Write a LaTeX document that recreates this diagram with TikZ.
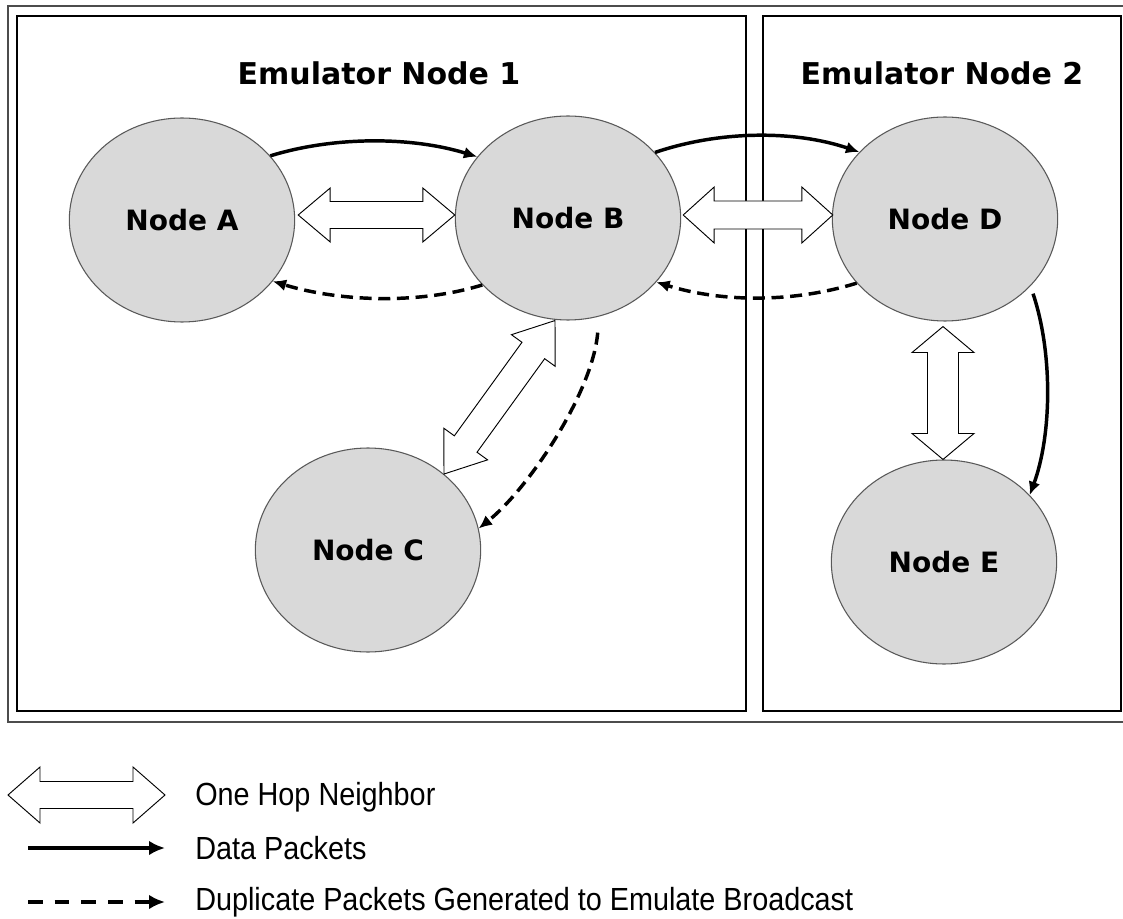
\documentclass[tikz,border=0pt]{standalone}
\usepackage{fontspec}
\setmainfont{Liberation Sans}
\newfontfamily\labfont{DejaVu Sans}
\newfontfamily\legfont{Liberation Sans}[FakeStretch=0.9]
\usetikzlibrary{shapes.geometric,arrows.meta,calc}
\definecolor{nodegray}{RGB}{217,217,217}
% hollow double arrow: #1 from, #2 to, #3 head length, #4 head half width, #5 shaft half width (px)
\newcommand{\hoparrow}[5]{%
  \draw[hop] let \p1=(#1), \p2=(#2),
    \n1={atan2(\y2-\y1,\x2-\x1)}, \n2={veclen(\x2-\x1,\y2-\y1)} in
    ([shift={(\p1)},rotate=\n1]0pt,0pt)
    -- ([shift={(\p1)},rotate=\n1]#3*0.75pt,#4*0.75pt)
    -- ([shift={(\p1)},rotate=\n1]#3*0.75pt,#5*0.75pt)
    -- ([shift={(\p1)},rotate=\n1]\n2-#3*0.75pt,#5*0.75pt)
    -- ([shift={(\p1)},rotate=\n1]\n2-#3*0.75pt,#4*0.75pt)
    -- ([shift={(\p1)},rotate=\n1]\n2,0pt)
    -- ([shift={(\p1)},rotate=\n1]\n2-#3*0.75pt,-#4*0.75pt)
    -- ([shift={(\p1)},rotate=\n1]\n2-#3*0.75pt,-#5*0.75pt)
    -- ([shift={(\p1)},rotate=\n1]#3*0.75pt,-#5*0.75pt)
    -- ([shift={(\p1)},rotate=\n1]#3*0.75pt,-#4*0.75pt)
    -- cycle;}
\begin{document}
\begin{tikzpicture}[x=0.75pt,y=-0.75pt,
  ell/.style={ellipse, draw=black!65, line width=0.8pt, fill=nodegray,
    minimum width=169pt, minimum height=153pt, inner sep=0pt,
    font=\labfont\bfseries\fontsize{21pt}{25pt}\selectfont},
  title/.style={font=\labfont\bfseries\fontsize{22.5pt}{27pt}\selectfont, inner sep=0pt},
  box/.style={draw=black, line width=2.2pt},
  frame/.style={draw=black!70, line width=1.2pt},
  data/.style={line width=2.6pt, -{Latex[length=10pt,width=9pt]}},
  dup/.style={data, dash pattern=on 9pt off 5pt},
  hop/.style={draw=black, line width=0.7pt, fill=white, line join=miter},
  legtext/.style={anchor=west, inner sep=0pt, font=\legfont\fontsize{24pt}{28pt}\selectfont},
  legdata/.style={line width=2.4pt, -{Latex[length=12pt,width=11pt]}},
  legdup/.style={legdata, dash pattern=on 11pt off 9pt}]
\useasboundingbox (0,0) rectangle (1123,919);
\fill[white] (0,0) rectangle (1123,919);
% frames
\draw[frame] (1123,6) -- (8,6) -- (8,722) -- (1123,722);
\draw[box] (17,16) rectangle (746,711);
\draw[box] (763,16) rectangle (1121,711);
\node[title] (t1) at (379,73) {Emulator Node 1};
\node[title] (t2) at (942,73) {Emulator Node 2};
% nodes
\node[ell] (A) at (182,220) {Node A};
\node[ell] (B) at (568,218) {Node B};
\node[ell] (C) at (368,550) {Node C};
\node[ell] (D) at (945,219) {Node D};
\node[ell] (E) at (944,562) {Node E};
% one hop neighbours
\hoparrow{$(A.east)+(3,-5)$}{$(B.west)+(0,-3)$}{32}{27}{13.5}
\hoparrow{$(B.east)+(2,-3)$}{$(D.west)+(1,-4)$}{31}{28}{14}
\hoparrow{C.45}{$(B.south)+(-13,0)$}{37}{27}{14}
\hoparrow{$(D.south)+(-2,5)$}{$(E.north)+(-1,0)$}{26}{31}{15.5}
% data packets
\draw[data] (A.36) .. controls ($(A.36)+(65,-20)$) and ($(B.146)+(-65,-20)$) .. (B.146);
\draw[data] (B.37) .. controls ($(B.37)+(65,-22)$) and ($(D.142)+(-65,-22)$) .. (D.142);
\draw[data] ($(D.-40)+(5,5)$) .. controls ($(D.-40)+(25,65)$) and ($(E.38)+(22,-60)$) .. (E.38);
% duplicate packets
\draw[dup] (B.218) .. controls ($(B.218)+(-65,20)$) and ($(A.-34)+(65,20)$) .. (A.-34);
\draw[dup] (D.216) .. controls ($(D.216)+(-65,20)$) and ($(B.-36)+(65,20)$) .. (B.-36);
\draw[dup] ($(B.-75)+(3,15)$) .. controls ($(B.-75)+(-2,75)$) and ($(C.11)+(50,-40)$) .. (C.11);
% legend
\coordinate (lh1) at (8,795);
\coordinate (lh2) at (165,795);
\hoparrow{lh1}{lh2}{32}{28}{13.5}
\coordinate (ld1) at (28,848);
\coordinate (ld2) at (165,848);
\draw[legdata] (ld1) -- (ld2);
\coordinate (lp1) at (28,902);
\coordinate (lp2) at (165,902);
\draw[legdup] (lp1) -- (lp2);
\node[legtext] (L1) at (195,797) {One Hop Neighbor};
\node[legtext] (L2) at (195,848) {Data Packets};
\node[legtext] (L3) at (195,902) {Duplicate Packets Generated to Emulate Broadcast};
\end{tikzpicture}
\end{document}
